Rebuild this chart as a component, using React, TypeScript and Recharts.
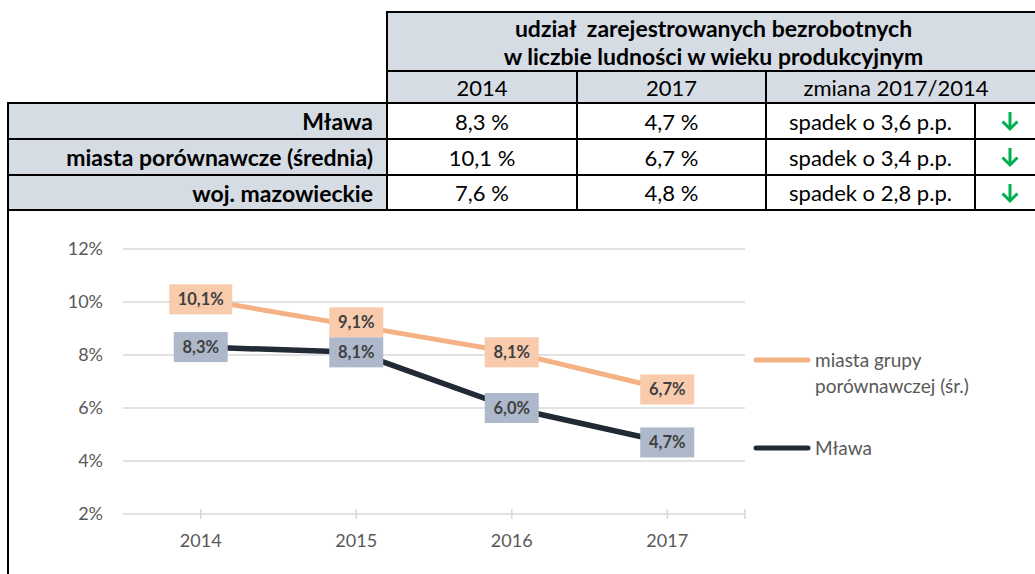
import React from 'react';
import { LineChart, Line, XAxis, YAxis, CartesianGrid, Legend } from 'recharts';

// chart data
const years = ['2014', '2015', '2016', '2017'];
const miastaValues = [10.1, 9.1, 8.1, 6.7];
const mlawaValues = [8.3, 8.1, 6.0, 4.7];
const yTicks = [2, 4, 6, 8, 10, 12];
const seriesOrder = ['miasta', 'mlawa'];

// table data
const tableTitle = ['udział  zarejestrowanych bezrobotnych', 'w liczbie ludności w wieku produkcyjnym'];
const tableYears = ['2014', '2017'];
const tableChange = 'zmiana 2017/2014';
const tableRegions = ['Mława', 'miasta porównawcze (średnia)', 'woj. mazowieckie'];
const share2014 = [8.3, 10.1, 7.6];
const share2017 = [4.7, 6.7, 4.8];

document.body.style.margin = '0';

const fmt = (v: number) => v.toFixed(1).replace('.', ',');

const chartData = years.map((year, i) => ({
    year,
    miasta: miastaValues[i],
    mlawa: mlawaValues[i],
}));

const FONT = 'Lato, "Noto Sans", sans-serif';
const HEAD_BG = '#D6DCE4';
const PLOT_W = 622;
const PLOT_H = 265;
const BOX_H = 30;
const PX_PER_UNIT = PLOT_H / (yTicks[yTicks.length - 1] - yTicks[0]);

const colX = [8, 387, 577, 766, 975, 1040];
const rowY = [12, 71, 103, 139, 175, 210];

type CellProps = {
    x0: number;
    x1: number;
    y0: number;
    y1: number;
    bg?: string;
    style?: React.CSSProperties;
    children?: React.ReactNode;
};

const Cell = ({ x0, x1, y0, y1, bg = '#fff', style, children }: CellProps) => (
    <div
        style={{
            position: 'absolute',
            left: x0 - 1,
            top: y0 - 1,
            width: x1 - x0 + 2,
            height: y1 - y0 + 2,
            boxSizing: 'border-box',
            border: '2px solid #000',
            background: bg,
            display: 'flex',
            alignItems: 'center',
            justifyContent: 'center',
            fontSize: 22,
            color: '#000',
            ...style,
        }}
    >
        {children}
    </div>
);

const DownArrow = () => (
    <svg width={20} height={22} viewBox='0 0 20 22'>
        <line x1={10} y1={2} x2={10} y2={19} stroke='#00B050' strokeWidth={3} />
        <polyline points='2.5,11.5 10,19 17.5,11.5' fill='none' stroke='#00B050' strokeWidth={3} />
    </svg>
);

const XTick = (props: any) => {
    const { x, y, payload, index } = props;
    const axisY = y - 8;
    return (
        <g>
            <line x1={x} x2={x} y1={axisY - 5} y2={axisY + 5} stroke='#D9D9D9' strokeWidth={1.5} />
            {index === years.length - 1 && (
                <line
                    x1={x + PLOT_W / years.length / 2}
                    x2={x + PLOT_W / years.length / 2}
                    y1={axisY - 5}
                    y2={axisY + 5}
                    stroke='#D9D9D9'
                    strokeWidth={1.5}
                />
            )}
            <text
                x={x}
                y={axisY + 20}
                dy='0.71em'
                textAnchor='middle'
                fill='#595959'
                fontSize={18}
                fontFamily={FONT}
            >
                {payload.value}
            </text>
        </g>
    );
};

const boxLabel = (fill: string, others?: number[]) => (props: any) => {
    const x = props.x ?? props.viewBox?.x;
    const y = props.y ?? props.viewBox?.y;
    const v = Number(props.value);
    const text = fmt(v) + '%';
    let shift = 0;
    if (others) {
        const gap = (v - others[props.index]) * PX_PER_UNIT;
        if (gap >= 0 && gap < BOX_H) shift = BOX_H - gap;
    }
    const w = text.length * 9 + 18;
    const cy = y - shift;
    return (
        <g>
            <rect x={x - w / 2} y={cy - BOX_H / 2} width={w} height={BOX_H} fill={fill} />
            <text
                x={x}
                y={cy}
                textAnchor='middle'
                dominantBaseline='central'
                fill='#404040'
                fontSize={16.5}
                fontWeight='bold'
                fontFamily={FONT}
            >
                {text}
            </text>
        </g>
    );
};

const renderLegend = (props: any) => {
    const payload = [...(props.payload || [])].sort(
        (a: any, b: any) => seriesOrder.indexOf(a.dataKey) - seriesOrder.indexOf(b.dataKey)
    );
    return (
        <div>
            {payload.map((entry: any, i: number) => (
                <div
                    key={i}
                    style={{ display: 'flex', alignItems: 'flex-start', marginBottom: i === 0 ? 36 : 0 }}
                >
                    <svg width={58} height={26}>
                        <line
                            x1={3}
                            x2={55}
                            y1={13}
                            y2={13}
                            stroke={entry.color}
                            strokeWidth={5}
                            strokeLinecap='round'
                        />
                    </svg>
                    <div
                        style={{
                            marginLeft: 4,
                            width: 175,
                            lineHeight: '26px',
                            fontSize: 19,
                            color: '#595959',
                            fontFamily: FONT,
                        }}
                    >
                        {entry.value}
                    </div>
                </div>
            ))}
        </div>
    );
};

const App = () => {
    return (
        <div
            style={{
                position: 'relative',
                width: 1035,
                height: 574,
                overflow: 'hidden',
                background: '#fff',
                fontFamily: FONT,
            }}
        >
            {/* header */}
            <Cell
                x0={colX[1]}
                x1={colX[5]}
                y0={rowY[0]}
                y1={rowY[1]}
                bg={HEAD_BG}
                style={{
                    flexDirection: 'column',
                    fontWeight: 'bold',
                    fontSize: 23,
                    lineHeight: '28px',
                    whiteSpace: 'pre',
                }}
            >
                {tableTitle.map((t) => (
                    <div key={t}>{t}</div>
                ))}
            </Cell>
            {tableYears.map((y, i) => (
                <Cell key={y} x0={colX[1 + i]} x1={colX[2 + i]} y0={rowY[1]} y1={rowY[2]} bg={HEAD_BG}>
                    {y}
                </Cell>
            ))}
            <Cell x0={colX[3]} x1={colX[5]} y0={rowY[1]} y1={rowY[2]} bg={HEAD_BG} style={{ paddingRight: 14 }}>
                {tableChange}
            </Cell>

            {/* rows */}
            {tableRegions.map((region, r) => (
                <React.Fragment key={region}>
                    <Cell
                        x0={colX[0]}
                        x1={colX[1]}
                        y0={rowY[2 + r]}
                        y1={rowY[3 + r]}
                        bg={HEAD_BG}
                        style={{ justifyContent: 'flex-end', paddingRight: 13, fontWeight: 'bold', fontSize: 23 }}
                    >
                        {region}
                    </Cell>
                    <Cell x0={colX[1]} x1={colX[2]} y0={rowY[2 + r]} y1={rowY[3 + r]}>
                        {fmt(share2014[r])} %
                    </Cell>
                    <Cell x0={colX[2]} x1={colX[3]} y0={rowY[2 + r]} y1={rowY[3 + r]}>
                        {fmt(share2017[r])} %
                    </Cell>
                    <Cell x0={colX[3]} x1={colX[4]} y0={rowY[2 + r]} y1={rowY[3 + r]}>
                        {share2017[r] < share2014[r] ? 'spadek' : 'wzrost'} o{' '}
                        {fmt(Math.abs(share2014[r] - share2017[r]))} p.p.
                    </Cell>
                    <Cell
                        x0={colX[4]}
                        x1={colX[5]}
                        y0={rowY[2 + r]}
                        y1={rowY[3 + r]}
                        style={{ justifyContent: 'flex-start', paddingLeft: 24 }}
                    >
                        <DownArrow />
                    </Cell>
                </React.Fragment>
            ))}

            {/* left border of chart area */}
            <div style={{ position: 'absolute', left: 7, top: 210, width: 2, height: 364, background: '#000' }} />

            <div style={{ position: 'absolute', left: 10, top: 212 }}>
                <LineChart
                    width={1025}
                    height={362}
                    data={chartData}
                    margin={{ top: 37, right: 290, left: 33, bottom: 30 }}
                    style={{ fontFamily: FONT }}
                >
                    <CartesianGrid vertical={false} stroke='#D9D9D9' strokeWidth={1.5} />
                    <XAxis
                        dataKey='year'
                        scale='band'
                        height={30}
                        axisLine={false}
                        tickLine={false}
                        tick={<XTick />}
                        interval={0}
                    />
                    <YAxis
                        type='number'
                        domain={[2, 12]}
                        ticks={yTicks}
                        width={80}
                        axisLine={false}
                        tickLine={false}
                        tickMargin={14}
                        tickFormatter={(v: number) => `${v}%`}
                        tick={{ fill: '#595959', fontSize: 18, fontFamily: FONT }}
                    />
                    <Legend
                        layout='vertical'
                        align='center'
                        verticalAlign='middle'
                        wrapperStyle={{ left: 743, top: 135, width: 270 }}
                        content={renderLegend}
                    />
                    <Line
                        type='linear'
                        dataKey='miasta'
                        name='miasta grupy porównawczej (śr.)'
                        stroke='#F4B183'
                        strokeWidth={5}
                        dot={false}
                        activeDot={false}
                        isAnimationActive={false}
                        label={boxLabel('#F8CBAD', mlawaValues)}
                    />
                    <Line
                        type='linear'
                        dataKey='mlawa'
                        name='Mława'
                        stroke='#222A35'
                        strokeWidth={5.5}
                        dot={false}
                        activeDot={false}
                        isAnimationActive={false}
                        label={boxLabel('#ADB9CA')}
                    />
                </LineChart>
            </div>
        </div>
    );
};

export default App;
